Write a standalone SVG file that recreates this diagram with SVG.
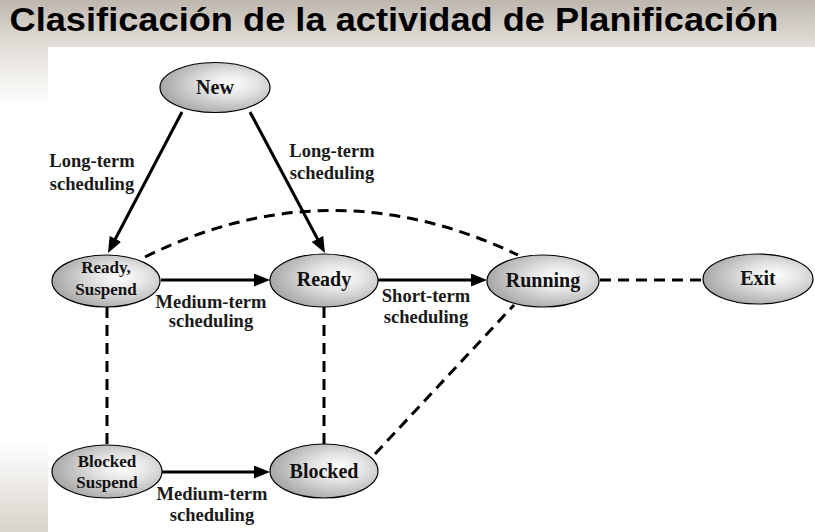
<svg xmlns="http://www.w3.org/2000/svg" width="815" height="532" viewBox="0 0 815 532">
<defs>
<linearGradient id="bg" x1="0" y1="0" x2="0" y2="1">
<stop offset="0" stop-color="#bdb7ae"/>
<stop offset="0.085" stop-color="#e2ded8"/>
<stop offset="0.2" stop-color="#ffffff"/>
<stop offset="0.83" stop-color="#ffffff"/>
<stop offset="1" stop-color="#d8d3cb"/>
</linearGradient>
<radialGradient id="nodeFill" cx="0.62" cy="0.45" r="0.64" fx="0.65" fy="0.42">
<stop offset="0" stop-color="#ffffff"/>
<stop offset="0.4" stop-color="#e2e2e2"/>
<stop offset="1" stop-color="#a4a4a4"/>
</radialGradient>
<marker id="arrow" markerUnits="userSpaceOnUse" viewBox="0 0 16 13" refX="5" refY="6.5" markerWidth="16" markerHeight="13" orient="auto">
<path d="M0,0 L16,6.5 L0,13 z" fill="#000"/>
</marker>
<style>
.node ellipse{fill:url(#nodeFill);stroke:#000;stroke-width:1.2}
.nl{font-family:"Liberation Serif","Times New Roman",serif;font-weight:bold;font-size:20px;fill:#111;text-anchor:middle}
.nl2{font-family:"Liberation Serif","Times New Roman",serif;font-weight:bold;font-size:17px;fill:#111;text-anchor:middle}
.el{font-family:"Liberation Serif","Times New Roman",serif;font-weight:bold;font-size:18.5px;fill:#1a1a1a;text-anchor:middle}
.solid{stroke:#000;stroke-width:3;fill:none;marker-end:url(#arrow)}
.dash{stroke:#000;stroke-width:3;fill:none;stroke-dasharray:11 7}
</style>
</defs>
<rect x="0" y="0" width="815" height="532" fill="url(#bg)"/>
<rect x="48" y="47" width="767" height="485" fill="#ffffff"/>
<text x="9.5" y="31" textLength="769" lengthAdjust="spacingAndGlyphs" font-family="'Liberation Sans',Arial,sans-serif" font-weight="bold" font-size="33" fill="#000">Clasificación de la actividad de Planificación</text>

<g id="connectors">
<line class="solid" x1="182" y1="112" x2="113.1" y2="243.3"/>
<line class="solid" x1="250" y1="112" x2="319.8" y2="243.3"/>
<line class="solid" x1="161" y1="280" x2="259" y2="280"/>
<line class="solid" x1="378" y1="280" x2="476" y2="280"/>
<line class="solid" x1="162" y1="472" x2="259" y2="472"/>
<path class="dash" d="M145,257 Q330,165 518,255"/>
<line class="dash" x1="600" y1="280" x2="703" y2="280"/>
<line class="dash" x1="107" y1="307" x2="107" y2="445"/>
<line class="dash" x1="324" y1="307" x2="324" y2="444"/>
<line class="dash" x1="375" y1="454" x2="514" y2="305"/>
<text class="el" x="92" y="167">Long-term</text>
<text class="el" x="92" y="190">scheduling</text>
<text class="el" x="332" y="157">Long-term</text>
<text class="el" x="332" y="179">scheduling</text>
<text class="el" x="211" y="308">Medium-term</text>
<text class="el" x="211" y="327">scheduling</text>
<text class="el" x="426" y="302">Short-term</text>
<text class="el" x="426" y="323">scheduling</text>
<text class="el" x="212" y="500">Medium-term</text>
<text class="el" x="212" y="521">scheduling</text>
</g>

<g id="node-new" class="node">
<ellipse cx="215" cy="87.5" rx="55" ry="25"/>
<text class="nl" x="215" y="94">New</text>
</g>
<g id="node-ready-suspend" class="node">
<ellipse cx="106" cy="281" rx="54" ry="26"/>
<text class="nl2" x="106" y="273">Ready,</text>
<text class="nl2" x="106" y="295">Suspend</text>
</g>
<g id="node-ready" class="node">
<ellipse cx="324" cy="280.5" rx="54" ry="26.5"/>
<text class="nl" x="324" y="286">Ready</text>
</g>
<g id="node-running" class="node">
<ellipse cx="543" cy="281" rx="56" ry="26"/>
<text class="nl" x="543" y="287">Running</text>
</g>
<g id="node-exit" class="node">
<ellipse cx="758" cy="279" rx="55" ry="25"/>
<text class="nl" x="758" y="285">Exit</text>
</g>
<g id="node-blocked-suspend" class="node">
<ellipse cx="107" cy="471.5" rx="55" ry="26.5"/>
<text class="nl2" x="107" y="467">Blocked</text>
<text class="nl2" x="107" y="488">Suspend</text>
</g>
<g id="node-blocked" class="node">
<ellipse cx="324" cy="471" rx="54" ry="27"/>
<text class="nl" x="324" y="478">Blocked</text>
</g>
</svg>
